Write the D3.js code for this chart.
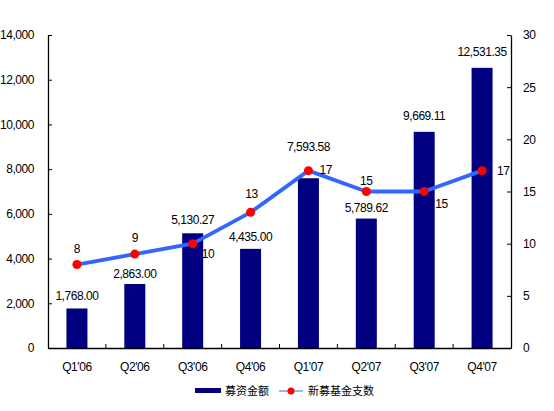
<!DOCTYPE html>
<html>
<head>
<meta charset="utf-8">
<script src="https://cdn.jsdelivr.net/npm/d3@7"></script>
<style>
  body { margin: 0; background: #fff; }
  text { font-family: "Liberation Sans", Arial, sans-serif; font-size: 12px; letter-spacing: -0.45px; fill: #000; }
  text.cjk { font-family: "Noto Sans CJK SC", sans-serif; font-size: 11px; letter-spacing: 0; }
</style>
</head>
<body>
<script>
const quarters = ["Q1'06", "Q2'06", "Q3'06", "Q4'06", "Q1'07", "Q2'07", "Q3'07", "Q4'07"];
const amounts = [1768.00, 2863.00, 5130.27, 4435.00, 7593.58, 5789.62, 9669.11, 12531.35];
const fundCounts = [8, 9, 10, 13, 17, 15, 15, 17];
const leftTicks = [0, 2000, 4000, 6000, 8000, 10000, 12000, 14000];
const rightTicks = [0, 5, 10, 15, 20, 25, 30];
const barName = '募资金额';
const lineName = '新募基金支数';

// label placement (offsets from the mark)
const barLabelDy = [-12, -10, -13, -12, -31, -11, -16, -16];
const lineLabelOff = [[0, -16], [0, -16], [9, 10], [1, -18], [11, -1], [0, -11], [11, 12], [15, 0]];

const w = 554, h = 411;
const m = {left: 48, right: 43, top: 35, bottom: 63};

const svg = d3.select('body').append('svg').attr('width', w).attr('height', h);

const x = d3.scaleBand().domain(quarters).range([m.left, w - m.right]);
const yL = d3.scaleLinear().domain([0, 14000]).range([h - m.bottom, m.top]);
const yR = d3.scaleLinear().domain([0, 30]).range([h - m.bottom, m.top]);
const fmt = d3.format(',.2f');

// bars
svg.selectAll('rect.bar').data(amounts).enter().append('rect')
  .attr('class', 'bar')
  .attr('x', (d, i) => x(quarters[i]) + x.bandwidth() / 2 - 10.5)
  .attr('width', 21)
  .attr('y', d => yL(d))
  .attr('height', d => yL(0) - yL(d))
  .attr('fill', '#000080');

// axes
const leftAxis = d3.axisLeft(yL).tickValues(leftTicks).tickFormat(d3.format(',')).tickSizeInner(-4).tickSizeOuter(0).tickPadding(14);
const gl = svg.append('g').attr('transform', `translate(${m.left},0)`).call(leftAxis);
const rightAxis = d3.axisRight(yR).tickValues(rightTicks).tickSizeInner(-4).tickSizeOuter(0).tickPadding(12);
const gr = svg.append('g').attr('transform', `translate(${w - m.right},0)`).call(rightAxis);
const bottomAxis = d3.axisBottom(x).tickSize(0).tickPadding(14);
const gb = svg.append('g').attr('transform', `translate(0,${h - m.bottom})`).call(bottomAxis);
[gl, gr, gb].forEach(g => {
  g.selectAll('text').attr('font-family', null).attr('font-size', null);
  g.selectAll('path, line').attr('stroke', '#000');
  g.select('.domain').attr('stroke-width', 1.3);
});
// category separator ticks pointing up
gb.selectAll('line.sep').data(quarters.slice(1)).enter().append('line')
  .attr('class', 'sep')
  .attr('x1', d => x(d)).attr('x2', d => x(d))
  .attr('y1', 0).attr('y2', -4)
  .attr('stroke', '#000');

// bar labels
svg.selectAll('text.blab').data(amounts).enter().append('text')
  .attr('class', 'blab')
  .attr('x', (d, i) => x(quarters[i]) + x.bandwidth() / 2)
  .attr('y', (d, i) => yL(d) + barLabelDy[i] + 4)
  .attr('text-anchor', 'middle')
  .text(d => fmt(d));

// line
const cx = (d, i) => x(quarters[i]) + x.bandwidth() / 2;
svg.append('path').datum(fundCounts)
  .attr('fill', 'none')
  .attr('stroke', '#3366ff')
  .attr('stroke-width', 3.8)
  .attr('stroke-linejoin', 'round')
  .attr('d', d3.line().x(cx).y(d => yR(d)));
svg.selectAll('circle.pt').data(fundCounts).enter().append('circle')
  .attr('class', 'pt')
  .attr('cx', cx).attr('cy', d => yR(d)).attr('r', 4.5)
  .attr('fill', '#ff0000');
svg.selectAll('text.llab').data(fundCounts).enter().append('text')
  .attr('class', 'llab')
  .attr('x', (d, i) => cx(d, i) + lineLabelOff[i][0])
  .attr('y', (d, i) => yR(d) + lineLabelOff[i][1] + 4)
  .attr('text-anchor', (d, i) => lineLabelOff[i][0] > 5 ? 'start' : 'middle')
  .text(d => d);

// legend
const lg = svg.append('g').attr('transform', 'translate(0,391)');
lg.append('rect').attr('x', 195).attr('y', -3).attr('width', 26).attr('height', 5).attr('fill', '#000080');
lg.append('text').attr('class', 'cjk').attr('x', 225).attr('y', 4).text(barName);
lg.append('line').attr('x1', 279).attr('x2', 303).attr('y1', 0).attr('y2', 0).attr('stroke', '#3366ff').attr('stroke-width', 1);
lg.append('circle').attr('cx', 291).attr('cy', 0).attr('r', 3.5).attr('fill', '#ff0000');
lg.append('text').attr('class', 'cjk').attr('x', 308).attr('y', 4).text(lineName);
</script>
</body>
</html>
